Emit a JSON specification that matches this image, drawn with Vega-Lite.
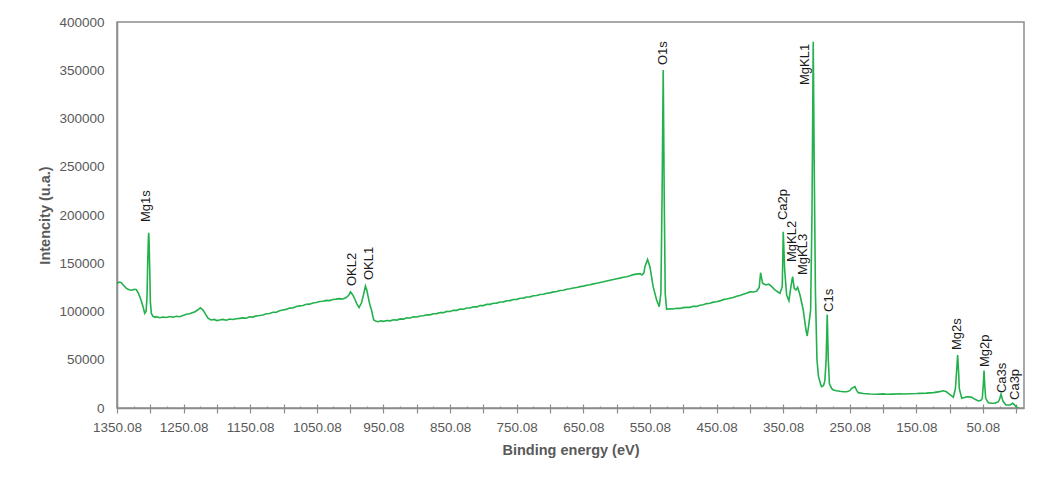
{
  "$schema": "https://vega.github.io/schema/vega-lite/v6.json",
  "autosize": {"type": "none"},
  "padding": {"left": 117, "top": 22, "right": 40, "bottom": 69},
  "width": 907,
  "height": 386,
  "background": "white",
  "config": {"view": {"stroke": "#8c8c8c", "strokeWidth": 1.5}, "font": "Liberation Sans"},
  "datasets": {
    "spectrum": [
      {"E": 1350.08, "I": 129000}, {"E": 1347, "I": 130500}, {"E": 1344, "I": 130000}, {"E": 1340, "I": 127000},
      {"E": 1336, "I": 124000}, {"E": 1332, "I": 122500}, {"E": 1328, "I": 122000}, {"E": 1324, "I": 123000},
      {"E": 1321, "I": 122500}, {"E": 1318, "I": 119000}, {"E": 1314, "I": 112000}, {"E": 1311, "I": 105000},
      {"E": 1308.5, "I": 98000}, {"E": 1306.5, "I": 100000}, {"E": 1305, "I": 115000}, {"E": 1304, "I": 150000},
      {"E": 1303, "I": 175000}, {"E": 1302.5, "I": 181500}, {"E": 1302, "I": 175000}, {"E": 1301, "I": 145000},
      {"E": 1300, "I": 110000}, {"E": 1298.5, "I": 98000}, {"E": 1296, "I": 95000}, {"E": 1293, "I": 94000},
      {"E": 1290.9, "I": 94600}, {"E": 1286, "I": 93500}, {"E": 1281, "I": 94300}, {"E": 1276, "I": 93800},
      {"E": 1271, "I": 94800}, {"E": 1266, "I": 94000}, {"E": 1261, "I": 95000}, {"E": 1256, "I": 94600},
      {"E": 1251, "I": 95900}, {"E": 1246, "I": 97100}, {"E": 1241, "I": 97600}, {"E": 1236, "I": 99000},
      {"E": 1233, "I": 99800}, {"E": 1229, "I": 101500}, {"E": 1225, "I": 103900}, {"E": 1221, "I": 101500},
      {"E": 1217, "I": 97000}, {"E": 1213.4, "I": 93000}, {"E": 1209, "I": 91200}, {"E": 1204, "I": 91800},
      {"E": 1200, "I": 90600}, {"E": 1196, "I": 91200}, {"E": 1191, "I": 91800}, {"E": 1186, "I": 91000},
      {"E": 1181, "I": 92200}, {"E": 1176, "I": 91700}, {"E": 1171, "I": 92500}, {"E": 1166, "I": 92900},
      {"E": 1161, "I": 93400}, {"E": 1156, "I": 93000}, {"E": 1151, "I": 94600}, {"E": 1146, "I": 94200},
      {"E": 1141, "I": 95500}, {"E": 1136, "I": 95900}, {"E": 1131, "I": 96400}, {"E": 1126, "I": 97600},
      {"E": 1121, "I": 97900}, {"E": 1116, "I": 99200}, {"E": 1111, "I": 99300}, {"E": 1106, "I": 100800},
      {"E": 1101, "I": 101600}, {"E": 1096, "I": 102200}, {"E": 1091, "I": 103500}, {"E": 1086, "I": 103700},
      {"E": 1081, "I": 105200}, {"E": 1076, "I": 105800}, {"E": 1071, "I": 106300}, {"E": 1066, "I": 107500},
      {"E": 1061, "I": 107600}, {"E": 1056, "I": 108900}, {"E": 1051, "I": 109300}, {"E": 1046, "I": 110300},
      {"E": 1041, "I": 110600}, {"E": 1036, "I": 111500}, {"E": 1031, "I": 111300}, {"E": 1026, "I": 112500},
      {"E": 1021, "I": 112800}, {"E": 1016, "I": 113300}, {"E": 1011, "I": 113000}, {"E": 1006, "I": 114500},
      {"E": 1002, "I": 117000}, {"E": 999.6, "I": 120500}, {"E": 996, "I": 117000}, {"E": 993, "I": 112700},
      {"E": 990, "I": 108000}, {"E": 986.7, "I": 104000}, {"E": 983, "I": 109000}, {"E": 980.7, "I": 115400},
      {"E": 977.1, "I": 126400}, {"E": 975, "I": 122000}, {"E": 973.1, "I": 115400}, {"E": 970.5, "I": 107000},
      {"E": 968, "I": 101600}, {"E": 966, "I": 95000}, {"E": 964.6, "I": 91200}, {"E": 961, "I": 89800},
      {"E": 958, "I": 89400}, {"E": 954, "I": 90300}, {"E": 950, "I": 89800}, {"E": 945, "I": 90600},
      {"E": 940, "I": 90300}, {"E": 935, "I": 91400}, {"E": 930, "I": 91100}, {"E": 925, "I": 92300},
      {"E": 920, "I": 92100}, {"E": 915, "I": 93400}, {"E": 910, "I": 93300}, {"E": 905, "I": 94500},
      {"E": 900, "I": 94300}, {"E": 895, "I": 95400}, {"E": 890, "I": 95600}, {"E": 885, "I": 96600},
      {"E": 880, "I": 96500}, {"E": 875, "I": 97700}, {"E": 870, "I": 97800}, {"E": 865, "I": 98900},
      {"E": 860, "I": 98800}, {"E": 855, "I": 100100}, {"E": 850, "I": 100000}, {"E": 845, "I": 101300},
      {"E": 840, "I": 101200}, {"E": 835, "I": 102500}, {"E": 830, "I": 102400}, {"E": 825, "I": 103700},
      {"E": 820, "I": 103600}, {"E": 815, "I": 104900}, {"E": 810, "I": 104800}, {"E": 805, "I": 106200},
      {"E": 800, "I": 106100}, {"E": 795, "I": 107400}, {"E": 790, "I": 107400}, {"E": 785, "I": 108600},
      {"E": 780, "I": 108700}, {"E": 775, "I": 109900}, {"E": 770, "I": 110000}, {"E": 765, "I": 111200},
      {"E": 760, "I": 111300}, {"E": 755, "I": 112500}, {"E": 750, "I": 112600}, {"E": 745, "I": 113800},
      {"E": 740, "I": 113900}, {"E": 735, "I": 115100}, {"E": 730, "I": 115200}, {"E": 725, "I": 116400},
      {"E": 720, "I": 116500}, {"E": 715, "I": 117700}, {"E": 710, "I": 117900}, {"E": 705, "I": 119000},
      {"E": 700, "I": 119300}, {"E": 695, "I": 120300}, {"E": 690, "I": 120700}, {"E": 685, "I": 121700},
      {"E": 680, "I": 122100}, {"E": 675, "I": 123000}, {"E": 670, "I": 123500}, {"E": 665, "I": 124400},
      {"E": 660, "I": 124900}, {"E": 655, "I": 125800}, {"E": 650, "I": 126300}, {"E": 645, "I": 127200},
      {"E": 640, "I": 127800}, {"E": 635, "I": 128600}, {"E": 630, "I": 129300}, {"E": 625, "I": 130100},
      {"E": 620, "I": 130800}, {"E": 615, "I": 131600}, {"E": 610, "I": 132400}, {"E": 605, "I": 133100},
      {"E": 600, "I": 133900}, {"E": 595, "I": 134600}, {"E": 590, "I": 135400}, {"E": 585, "I": 136100},
      {"E": 580, "I": 137000}, {"E": 575, "I": 138200}, {"E": 570, "I": 138700}, {"E": 565, "I": 139200},
      {"E": 562, "I": 137800}, {"E": 559, "I": 140000}, {"E": 557.6, "I": 146400}, {"E": 553.6, "I": 154000},
      {"E": 550.1, "I": 146400}, {"E": 545.2, "I": 125700}, {"E": 540, "I": 111900}, {"E": 536.1, "I": 105000},
      {"E": 533.6, "I": 118800}, {"E": 531.8, "I": 220000}, {"E": 530.1, "I": 350300}, {"E": 528.6, "I": 220000},
      {"E": 527.1, "I": 118800}, {"E": 525, "I": 102300}, {"E": 520, "I": 102900}, {"E": 515, "I": 102600},
      {"E": 510, "I": 103300}, {"E": 505, "I": 103200}, {"E": 500, "I": 104000}, {"E": 495, "I": 104300},
      {"E": 490, "I": 104300}, {"E": 485, "I": 105500}, {"E": 480, "I": 105300}, {"E": 475, "I": 106500},
      {"E": 470, "I": 107000}, {"E": 465, "I": 108200}, {"E": 460, "I": 108500}, {"E": 455, "I": 109700},
      {"E": 450, "I": 110100}, {"E": 445, "I": 111000}, {"E": 440, "I": 112300}, {"E": 435, "I": 112900},
      {"E": 430, "I": 113800}, {"E": 425, "I": 114600}, {"E": 420, "I": 115800}, {"E": 415, "I": 116600},
      {"E": 410, "I": 117800}, {"E": 405, "I": 118900}, {"E": 400, "I": 120300}, {"E": 395, "I": 120200},
      {"E": 390, "I": 121000}, {"E": 386, "I": 125000}, {"E": 383.9, "I": 140200}, {"E": 380.9, "I": 129200},
      {"E": 375.9, "I": 127500}, {"E": 372, "I": 128300}, {"E": 369.9, "I": 127500}, {"E": 366, "I": 125000},
      {"E": 362.4, "I": 122300}, {"E": 358, "I": 120200}, {"E": 354.9, "I": 118900}, {"E": 351.4, "I": 125700},
      {"E": 349.9, "I": 182700}, {"E": 347.8, "I": 143000}, {"E": 344.8, "I": 117100}, {"E": 341.4, "I": 111200},
      {"E": 338.4, "I": 125700}, {"E": 335.8, "I": 136100}, {"E": 333.4, "I": 124000}, {"E": 330.8, "I": 122300},
      {"E": 328.3, "I": 125000}, {"E": 324.8, "I": 117100}, {"E": 319.9, "I": 101600}, {"E": 315.8, "I": 80800},
      {"E": 313.9, "I": 74600}, {"E": 311.3, "I": 87800}, {"E": 308.8, "I": 101600}, {"E": 306.8, "I": 200000},
      {"E": 304.9, "I": 379600}, {"E": 303.4, "I": 250000}, {"E": 301.6, "I": 120000}, {"E": 299.3, "I": 50000},
      {"E": 297.1, "I": 33000}, {"E": 294, "I": 25000}, {"E": 292.3, "I": 22100}, {"E": 289.5, "I": 23000},
      {"E": 287.5, "I": 28000}, {"E": 285.5, "I": 50000}, {"E": 283.9, "I": 97000}, {"E": 282.3, "I": 50000},
      {"E": 280.6, "I": 25000}, {"E": 277, "I": 20000}, {"E": 274.8, "I": 18700}, {"E": 270, "I": 17800},
      {"E": 264.8, "I": 17300}, {"E": 259.8, "I": 16900}, {"E": 254.7, "I": 16800}, {"E": 250, "I": 18000},
      {"E": 247.2, "I": 20400}, {"E": 242.3, "I": 22100}, {"E": 239.5, "I": 18000}, {"E": 237.3, "I": 15900},
      {"E": 230, "I": 15100}, {"E": 219.7, "I": 14500}, {"E": 210, "I": 14300}, {"E": 200, "I": 14600},
      {"E": 194.6, "I": 14200}, {"E": 185, "I": 14400}, {"E": 175, "I": 14700}, {"E": 169.7, "I": 14500},
      {"E": 160, "I": 14800}, {"E": 150, "I": 15000}, {"E": 144.6, "I": 15200}, {"E": 135, "I": 15400},
      {"E": 124.6, "I": 15900}, {"E": 115, "I": 17000}, {"E": 109.6, "I": 17900}, {"E": 105, "I": 16800},
      {"E": 102.1, "I": 15200}, {"E": 97, "I": 12500}, {"E": 94.6, "I": 11100}, {"E": 91.5, "I": 20000},
      {"E": 90, "I": 35000}, {"E": 88.1, "I": 54900}, {"E": 86.5, "I": 35000}, {"E": 85.6, "I": 20000},
      {"E": 82, "I": 10000}, {"E": 78, "I": 10800}, {"E": 74.5, "I": 11700}, {"E": 70.5, "I": 11500},
      {"E": 67, "I": 11100}, {"E": 62, "I": 9000}, {"E": 57.1, "I": 7300}, {"E": 53, "I": 8000},
      {"E": 51.1, "I": 10000}, {"E": 49.5, "I": 25000}, {"E": 48.5, "I": 38700}, {"E": 47.3, "I": 22000},
      {"E": 46, "I": 10000}, {"E": 42.1, "I": 5500}, {"E": 37, "I": 4900}, {"E": 32, "I": 4900},
      {"E": 27, "I": 6500}, {"E": 25, "I": 9500}, {"E": 23, "I": 14200}, {"E": 21, "I": 9000},
      {"E": 19.5, "I": 6500}, {"E": 15.5, "I": 3100}, {"E": 9.5, "I": 3100}, {"E": 5.4, "I": 4900},
      {"E": 3, "I": 3500}, {"E": 0.5, "I": 1400}, {"E": -3.2, "I": 0}
    ],
    "peaks": [
      {"label": "Mg1s", "E": 1305.9, "I": 192700},
      {"label": "OKL2", "E": 997.3, "I": 126400},
      {"label": "OKL1", "E": 972.1, "I": 132600},
      {"label": "O1s", "E": 530.1, "I": 355400},
      {"label": "Ca2p", "E": 349.9, "I": 194800},
      {"label": "MgKL2", "E": 337.3, "I": 151300},
      {"label": "MgKL3", "E": 319.9, "I": 137800},
      {"label": "MgKL1", "E": 317.4, "I": 334700},
      {"label": "C1s", "E": 280.6, "I": 99500},
      {"label": "Mg2s", "E": 89.5, "I": 60100},
      {"label": "Mg2p", "E": 47.1, "I": 42500},
      {"label": "Ca3s", "E": 22.0, "I": 15500},
      {"label": "Ca3p", "E": 2.0, "I": 8300}
    ]
  },
  "resolve": {"axis": {"x": "independent", "y": "independent"}},
  "layer": [
    {
      "data": {"name": "spectrum"},
      "mark": {"type": "line", "color": "#22b14c", "strokeWidth": 1.6, "clip": true},
      "encoding": {
        "x": {
          "field": "E", "type": "quantitative",
          "scale": {"domain": [-11.5, 1350.08], "reverse": true, "nice": false, "zero": false},
          "axis": {
            "orient": "bottom",
            "values": [1350.08, 1300.08, 1250.08, 1200.08, 1150.08, 1100.08, 1050.08, 1000.08, 950.08, 900.08, 850.08, 800.08, 750.08, 700.08, 650.08, 600.08, 550.08, 500.08, 450.08, 400.08, 350.08, 300.08, 250.08, 200.08, 150.08, 100.08, 50.08, 0.08],
            "labelExpr": "(round(1350.08 - datum.value) % 100 == 0) ? format(datum.value, '.2f') : ''",
            "labelOverlap": false, "labelFlush": false, "labelBound": false,
            "labelFontSize": 13.5, "labelColor": "#595959", "labelPadding": 7,
            "tickSize": 5, "tickColor": "#8c8c8c", "tickWidth": 1.2,
            "domainColor": "#8c8c8c", "domainWidth": 1.5, "grid": false,
            "title": "Binding energy (eV)", "titleFontSize": 14.5, "titleFontWeight": "bold",
            "titleColor": "#595959", "titleY": 42, "titleBaseline": "middle"
          }
        },
        "y": {
          "field": "I", "type": "quantitative",
          "scale": {"domain": [0, 400000], "nice": false},
          "axis": {
            "orient": "left",
            "values": [0, 50000, 100000, 150000, 200000, 250000, 300000, 350000, 400000],
            "format": "d", "ticks": false, "tickSize": 0, "labelPadding": 13,
            "labelFontSize": 13.5, "labelColor": "#595959",
            "domainColor": "#8c8c8c", "domainWidth": 1.5, "grid": false,
            "title": "Intencity (u.a.)", "titleFontSize": 14.5, "titleFontWeight": "bold",
            "titleColor": "#595959", "titleX": -72, "titleY": 193, "titleAngle": 270,
            "titleAlign": "center", "titleBaseline": "middle"
          }
        }
      }
    },
    {
      "data": {"name": "peaks"},
      "mark": {"type": "text", "angle": 270, "align": "left", "baseline": "middle", "fontSize": 13, "color": "#1a1a1a"},
      "encoding": {
        "x": {
          "field": "E", "type": "quantitative",
          "axis": {
            "orient": "bottom",
            "values": [1350.08, 1300.08, 1250.08, 1200.08, 1150.08, 1100.08, 1050.08, 1000.08, 950.08, 900.08, 850.08, 800.08, 750.08, 700.08, 650.08, 600.08, 550.08, 500.08, 450.08, 400.08, 350.08, 300.08, 250.08, 200.08, 150.08, 100.08, 50.08, 0.08],
            "labels": false, "domain": false, "grid": false, "title": null,
            "tickSize": -4, "tickColor": "#8c8c8c", "tickWidth": 1.2
          }
        },
        "y": {"field": "I", "type": "quantitative", "axis": null},
        "text": {"field": "label"}
      }
    },
    {
      "data": {"name": "peaks"},
      "mark": {"type": "point", "opacity": 0},
      "encoding": {
        "x": {
          "field": "E", "type": "quantitative",
          "axis": {
            "orient": "bottom",
            "values": [1325.08, 1275.08, 1225.08, 1175.08, 1125.08, 1075.08, 1025.08, 975.08, 925.08, 875.08, 825.08, 775.08, 725.08, 675.08, 625.08, 575.08, 525.08, 475.08, 425.08, 375.08, 325.08, 275.08, 225.08, 175.08, 125.08, 75.08, 25.08],
            "labels": false, "domain": false, "grid": false, "title": null,
            "tickSize": -2, "tickColor": "#8c8c8c", "tickWidth": 1.2
          }
        },
        "y": {"field": "I", "type": "quantitative", "axis": null}
      }
    }
  ]
}
